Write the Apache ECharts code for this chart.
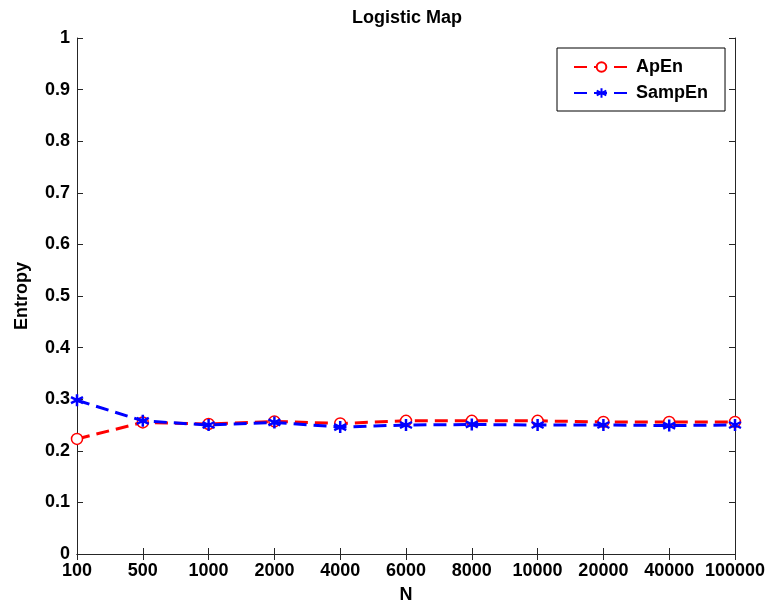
<!DOCTYPE html>
<html><head><meta charset="utf-8">
<script src="https://cdn.jsdelivr.net/npm/echarts@6/dist/echarts.min.js"></script>
<style>html,body{margin:0;padding:0;background:#fff}#c{width:765px;height:608px}</style>
</head><body><div id="c"></div>
<script>
const categories = ['100','500','1000','2000','4000','6000','8000','10000','20000','40000','100000'];
const apen = [0.223,0.255,0.252,0.257,0.253,0.258,0.258,0.258,0.256,0.256,0.256];
const sampen = [0.298,0.258,0.250,0.255,0.246,0.250,0.251,0.250,0.250,0.249,0.250];
const yTicks = [0,0.1,0.2,0.3,0.4,0.5,0.6,0.7,0.8,0.9,1];

const font = '"Liberation Sans", Arial, sans-serif';
const chart = echarts.init(document.getElementById('c'), null, {renderer:'canvas'});
const axisLine = {show:true, lineStyle:{color:'#262626', width:1}};
const tick = {show:true, inside:true, length:6, lineStyle:{color:'#262626'}};
const asterisk = 'path://M0,-5L0,5M-4.33,-2.5L4.33,2.5M-4.33,2.5L4.33,-2.5';
chart.setOption({
  animation:false,
  backgroundColor:'#fff',
  title:{text:'Logistic Map', left:402, top:4, textAlign:'center',
    textStyle:{fontFamily:font, fontWeight:'bold', fontSize:18, color:'#000'}},
  legend:{
    left:557, top:48, orient:'vertical', itemGap:8, itemWidth:55, itemHeight:12,
    padding:[10,17,9,16],
    borderColor:'#000', borderWidth:1, backgroundColor:'#fff',
    textStyle:{fontFamily:font, fontWeight:'bold', fontSize:18, color:'#000', padding:[0,0,0,2]},
    data:['ApEn','SampEn']
  },
  grid:{left:77, right:30, top:38, bottom:54, containLabel:false, outerBoundsMode:'none'},
  xAxis:[{
    type:'category', data:categories, boundaryGap:false,
    axisLine:axisLine, axisTick:Object.assign({}, tick, {alignWithLabel:true}),
    axisLabel:{color:'#000', fontFamily:font, fontWeight:'bold', fontSize:18, margin:8, interval:0},
    name:'N', nameLocation:'middle', nameGap:32,
    nameTextStyle:{color:'#000', fontFamily:font, fontWeight:'bold', fontSize:18},
    splitLine:{show:false}
  },{
    type:'category', data:categories, boundaryGap:false, position:'top',
    axisLine:axisLine, axisTick:tick, axisLabel:{show:false}, splitLine:{show:false}
  }],
  yAxis:[{
    type:'value', min:0, max:1, interval:0.1,
    axisLine:axisLine, axisTick:tick,
    axisLabel:{color:'#000', fontFamily:font, fontWeight:'bold', fontSize:18, margin:7,
      formatter:v=>{const t=yTicks.find(x=>Math.abs(x-v)<1e-9); return t===undefined?'':String(t);}},
    name:'Entropy', nameLocation:'middle', nameGap:46, nameRotate:90,
    nameTextStyle:{color:'#000', fontFamily:font, fontWeight:'bold', fontSize:18},
    splitLine:{show:false}
  },{
    type:'value', min:0, max:1, interval:0.1, position:'right',
    axisLine:axisLine, axisTick:tick, axisLabel:{show:false}, splitLine:{show:false}
  }],
  series:[{
    name:'ApEn', type:'line', data:apen, symbol:'circle', symbolSize:11,
    showAllSymbol:true,
    lineStyle:{color:'#ff0000', width:3, type:[13,7]},
    itemStyle:{color:'#fff', borderColor:'#ff0000', borderWidth:1.5},
    z:2
  },{
    name:'SampEn', type:'line', data:sampen, symbol:asterisk, symbolSize:12,
    showAllSymbol:true,
    lineStyle:{color:'#0000ff', width:3, type:[13,7]},
    itemStyle:{color:'#0000ff', borderColor:'#0000ff', borderWidth:2.5},
    z:3
  }]
});
</script></body></html>
